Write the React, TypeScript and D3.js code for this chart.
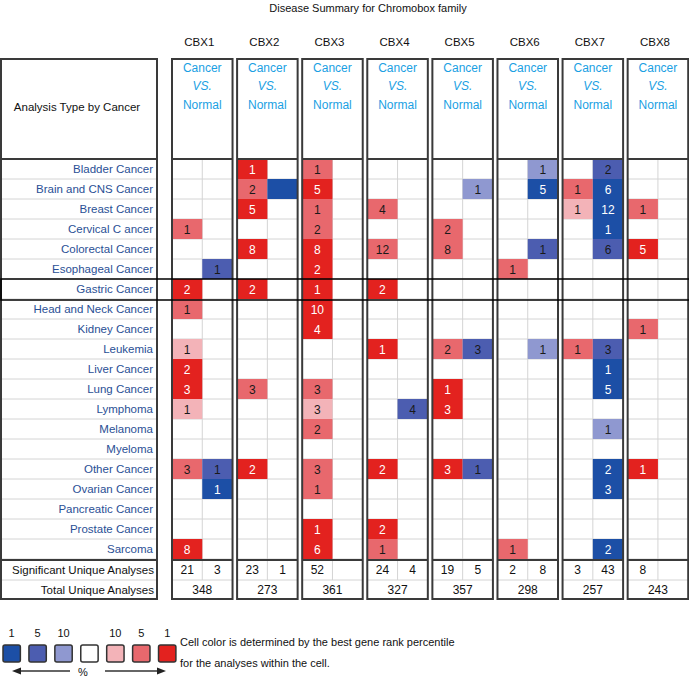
import React from "react";
import * as d3 from "d3";

const title = "Disease Summary for Chromobox family";
const genes = ["CBX1", "CBX2", "CBX3", "CBX4", "CBX5", "CBX6", "CBX7", "CBX8"];
const cancers = [
  "Bladder Cancer", "Brain and CNS Cancer", "Breast Cancer", "Cervical C ancer",
  "Colorectal Cancer", "Esophageal Cancer", "Gastric Cancer", "Head and Neck Cancer",
  "Kidney Cancer", "Leukemia", "Liver Cancer", "Lung Cancer", "Lymphoma", "Melanoma",
  "Myeloma", "Other Cancer", "Ovarian Cancer", "Pancreatic Cancer", "Prostate Cancer", "Sarcoma",
];
const directions = ["up", "down"];
const highlightCancer = "Gastric Cancer";

// [cancer, gene, direction, count, best percentile]
const cellValues: [string, string, string, number | null, number][] = [
  ["Bladder Cancer", "CBX2", "up", 1, 1],
  ["Bladder Cancer", "CBX3", "up", 1, 5],
  ["Bladder Cancer", "CBX6", "down", 1, 10],
  ["Bladder Cancer", "CBX7", "down", 2, 5],
  ["Brain and CNS Cancer", "CBX2", "up", 2, 5],
  ["Brain and CNS Cancer", "CBX2", "down", null, 1],
  ["Brain and CNS Cancer", "CBX3", "up", 5, 1],
  ["Brain and CNS Cancer", "CBX5", "down", 1, 10],
  ["Brain and CNS Cancer", "CBX6", "down", 5, 1],
  ["Brain and CNS Cancer", "CBX7", "up", 1, 5],
  ["Brain and CNS Cancer", "CBX7", "down", 6, 1],
  ["Breast Cancer", "CBX2", "up", 5, 1],
  ["Breast Cancer", "CBX3", "up", 1, 5],
  ["Breast Cancer", "CBX4", "up", 4, 5],
  ["Breast Cancer", "CBX7", "up", 1, 10],
  ["Breast Cancer", "CBX7", "down", 12, 1],
  ["Breast Cancer", "CBX8", "up", 1, 5],
  ["Cervical C ancer", "CBX1", "up", 1, 5],
  ["Cervical C ancer", "CBX3", "up", 2, 5],
  ["Cervical C ancer", "CBX5", "up", 2, 5],
  ["Cervical C ancer", "CBX7", "down", 1, 1],
  ["Colorectal Cancer", "CBX2", "up", 8, 1],
  ["Colorectal Cancer", "CBX3", "up", 8, 1],
  ["Colorectal Cancer", "CBX4", "up", 12, 5],
  ["Colorectal Cancer", "CBX5", "up", 8, 5],
  ["Colorectal Cancer", "CBX6", "down", 1, 5],
  ["Colorectal Cancer", "CBX7", "down", 6, 5],
  ["Colorectal Cancer", "CBX8", "up", 5, 1],
  ["Esophageal Cancer", "CBX1", "down", 1, 5],
  ["Esophageal Cancer", "CBX3", "up", 2, 1],
  ["Esophageal Cancer", "CBX6", "up", 1, 5],
  ["Gastric Cancer", "CBX1", "up", 2, 1],
  ["Gastric Cancer", "CBX2", "up", 2, 1],
  ["Gastric Cancer", "CBX3", "up", 1, 1],
  ["Gastric Cancer", "CBX4", "up", 2, 1],
  ["Head and Neck Cancer", "CBX1", "up", 1, 5],
  ["Head and Neck Cancer", "CBX3", "up", 10, 1],
  ["Kidney Cancer", "CBX3", "up", 4, 1],
  ["Kidney Cancer", "CBX8", "up", 1, 5],
  ["Leukemia", "CBX1", "up", 1, 10],
  ["Leukemia", "CBX4", "up", 1, 1],
  ["Leukemia", "CBX5", "up", 2, 5],
  ["Leukemia", "CBX5", "down", 3, 5],
  ["Leukemia", "CBX6", "down", 1, 10],
  ["Leukemia", "CBX7", "up", 1, 5],
  ["Leukemia", "CBX7", "down", 3, 5],
  ["Liver Cancer", "CBX1", "up", 2, 1],
  ["Liver Cancer", "CBX7", "down", 1, 1],
  ["Lung Cancer", "CBX1", "up", 3, 1],
  ["Lung Cancer", "CBX2", "up", 3, 5],
  ["Lung Cancer", "CBX3", "up", 3, 5],
  ["Lung Cancer", "CBX5", "up", 1, 1],
  ["Lung Cancer", "CBX7", "down", 5, 1],
  ["Lymphoma", "CBX1", "up", 1, 10],
  ["Lymphoma", "CBX3", "up", 3, 10],
  ["Lymphoma", "CBX4", "down", 4, 5],
  ["Lymphoma", "CBX5", "up", 3, 1],
  ["Melanoma", "CBX3", "up", 2, 5],
  ["Melanoma", "CBX7", "down", 1, 10],
  ["Other Cancer", "CBX1", "up", 3, 5],
  ["Other Cancer", "CBX1", "down", 1, 5],
  ["Other Cancer", "CBX2", "up", 2, 1],
  ["Other Cancer", "CBX3", "up", 3, 5],
  ["Other Cancer", "CBX4", "up", 2, 1],
  ["Other Cancer", "CBX5", "up", 3, 1],
  ["Other Cancer", "CBX5", "down", 1, 5],
  ["Other Cancer", "CBX7", "down", 2, 1],
  ["Other Cancer", "CBX8", "up", 1, 1],
  ["Ovarian Cancer", "CBX1", "down", 1, 1],
  ["Ovarian Cancer", "CBX3", "up", 1, 5],
  ["Ovarian Cancer", "CBX7", "down", 3, 1],
  ["Prostate Cancer", "CBX3", "up", 1, 1],
  ["Prostate Cancer", "CBX4", "up", 2, 1],
  ["Sarcoma", "CBX1", "up", 8, 1],
  ["Sarcoma", "CBX3", "up", 6, 1],
  ["Sarcoma", "CBX4", "up", 1, 5],
  ["Sarcoma", "CBX6", "up", 1, 5],
  ["Sarcoma", "CBX7", "down", 2, 1],
];

const significantUp = [21, 23, 52, 24, 19, 2, 3, 8];
const significantDown: (number | null)[] = [3, 1, null, 4, 5, 8, 43, null];
const totalAnalyses = [348, 273, 361, 327, 357, 298, 257, 243];

const legendKeys = ["down-1", "down-5", "down-10", "none", "up-10", "up-5", "up-1"];
const legendLabels = ["1", "5", "10", "", "10", "5", "1"];

const colorScale = d3
  .scaleOrdinal<string, string>()
  .domain(["down-1", "down-5", "down-10", "none", "up-10", "up-5", "up-1"])
  .range(["#1c4fa6", "#4c5db0", "#8f98d0", "#ffffff", "#f3b3b8", "#e8686d", "#e3221f"]);

const FONT = "'Liberation Sans', Arial, Helvetica, sans-serif";

export default function App() {
  const W = 689;
  const H = 678;
  const top = 59;
  const headBottom = 159;
  const bodyBottom = 559;
  const sigBottom = 580;
  const bottom = 599;

  const x = d3.scaleBand<string>().domain(genes).range([172, 688.2]).paddingInner(0.07);
  const y = d3.scaleBand<string>().domain(cancers).range([headBottom, bodyBottom]);
  const bw = x.bandwidth();
  const sub = d3.scaleBand<string>().domain(directions).range([0, bw]);
  const rh = y.bandwidth();

  const border = "#3a3a3a";
  const grid = "#d4d4d4";
  const labelBlue = "#2a4f95";

  const legendX = d3.scaleBand<string>().domain(legendKeys).range([3, 3 + 24.7 * 7]).paddingInner(0.33);

  return (
    <svg
      width={W}
      height={H}
      style={{ position: "absolute", left: 0, top: 0, background: "#fff" }}
      fontFamily={FONT}
    >
      <rect x={0} y={0} width={W} height={H} fill="#fff" />
      <text x={368} y={12} textAnchor="middle" fontSize={11} fill="#111">
        {title}
      </text>

      {/* left label panel */}
      <g>
        {cancers.map((c) => (
          <line key={"lg" + c} x1={1} x2={157} y1={(y(c) as number) + rh} y2={(y(c) as number) + rh} stroke={grid} />
        ))}
        <line x1={1} x2={157} y1={sigBottom} y2={sigBottom} stroke={grid} />
        <rect x={1} y={top} width={156} height={bottom - top} fill="none" stroke={border} strokeWidth={2} />
        <line x1={1} x2={157} y1={headBottom} y2={headBottom} stroke={border} strokeWidth={2} />
        <line x1={1} x2={157} y1={bodyBottom + 1} y2={bodyBottom + 1} stroke={border} strokeWidth={2} />
        <text x={77} y={111} textAnchor="middle" fontSize={11.5} fill="#111">
          Analysis Type by Cancer
        </text>
        {cancers.map((c) => (
          <text key={"lt" + c} x={153} y={(y(c) as number) + rh / 2 + 4} textAnchor="end" fontSize={11.5} fill={labelBlue}>
            {c}
          </text>
        ))}
        <text x={154} y={sigBottom - 6} textAnchor="end" fontSize={11.5} fill="#111">
          Significant Unique Analyses
        </text>
        <text x={154} y={bottom - 5} textAnchor="end" fontSize={11.5} fill="#111">
          Total Unique Analyses
        </text>
      </g>

      {/* gene panels */}
      {genes.map((g, gi) => {
        const x0 = x(g) as number;
        return (
          <g key={g}>
            <text x={x0 + bw / 2 - 3} y={46} textAnchor="middle" fontSize={11.5} fill="#111">
              {g}
            </text>
            <text x={x0 + bw / 2} y={72} textAnchor="middle" fontSize={12} fill="#1a9fe3">
              Cancer
            </text>
            <text x={x0 + bw / 2} y={90} textAnchor="middle" fontSize={12} fontStyle="italic" fill="#1a9fe3">
              VS.
            </text>
            <text x={x0 + bw / 2} y={109} textAnchor="middle" fontSize={12} fill="#1a9fe3">
              Normal
            </text>
            {cancers.map((c) => (
              <line key={"g" + c} x1={x0} x2={x0 + bw} y1={(y(c) as number) + rh} y2={(y(c) as number) + rh} stroke={grid} />
            ))}
            <line x1={x0} x2={x0 + bw} y1={sigBottom} y2={sigBottom} stroke={grid} />
            <line
              x1={x0 + (sub("down") as number)}
              x2={x0 + (sub("down") as number)}
              y1={headBottom}
              y2={sigBottom}
              stroke={grid}
            />
            {cellValues
              .filter((d) => d[1] === g)
              .map((d, i) => {
                const [c, , dir, count, pct] = d;
                const cx = x0 + (sub(dir) as number);
                const cy = y(c) as number;
                const key = dir + "-" + pct;
                return (
                  <g key={i}>
                    <rect x={cx} y={cy} width={sub.bandwidth()} height={rh} fill={colorScale(key)} />
                    {count !== null && (
                      <text
                        x={cx + sub.bandwidth() / 2}
                        y={cy + rh / 2 + 4.5}
                        textAnchor="middle"
                        fontSize={12}
                        fill={pct === 1 ? "#fff" : "#1a1a1a"}
                      >
                        {count}
                      </text>
                    )}
                  </g>
                );
              })}
            <text x={x0 + (sub("up") as number) + sub.bandwidth() / 2} y={sigBottom - 6} textAnchor="middle" fontSize={12} fill="#111">
              {significantUp[gi]}
            </text>
            {significantDown[gi] !== null && (
              <text
                x={x0 + (sub("down") as number) + sub.bandwidth() / 2}
                y={sigBottom - 6}
                textAnchor="middle"
                fontSize={12}
                fill="#111"
              >
                {significantDown[gi]}
              </text>
            )}
            <text x={x0 + bw / 2} y={bottom - 5} textAnchor="middle" fontSize={12} fill="#111">
              {totalAnalyses[gi]}
            </text>
            <rect x={x0} y={top} width={bw} height={bottom - top} fill="none" stroke={border} strokeWidth={2} />
            <line x1={x0} x2={x0 + bw} y1={headBottom} y2={headBottom} stroke={border} strokeWidth={2} />
            <line x1={x0} x2={x0 + bw} y1={bodyBottom + 1} y2={bodyBottom + 1} stroke={border} strokeWidth={2} />
          </g>
        );
      })}

      {/* highlighted row */}
      <rect
        x={1}
        y={y(highlightCancer) as number}
        width={W}
        height={rh + 1}
        fill="none"
        stroke="#000"
        strokeWidth={1.5}
      />

      {/* legend */}
      <g>
        {legendKeys.map((k, i) => {
          const lx = legendX(k) as number;
          return (
            <g key={k}>
              <rect x={lx} y={645} width={legendX.bandwidth()} height={17} rx={2} fill={colorScale(k)} stroke="#333" strokeWidth={1.5} />
              <text x={lx + legendX.bandwidth() / 2} y={637} textAnchor="middle" fontSize={11} fill="#111">
                {legendLabels[i]}
              </text>
            </g>
          );
        })}
        <line x1={19} x2={70} y1={671} y2={671} stroke="#333" strokeWidth={1.5} />
        <path d="M12,671 L21,667.5 L21,674.5 Z" fill="#222" />
        <line x1={105} x2={158} y1={671} y2={671} stroke="#333" strokeWidth={1.5} />
        <path d="M166,671 L157,667.5 L157,674.5 Z" fill="#222" />
        <text x={83} y={676} textAnchor="middle" fontSize={11} fill="#111">
          %
        </text>
        <text x={180} y={646} fontSize={11} fill="#111">
          Cell color is determined by the best gene rank percentile
        </text>
        <text x={180} y={667} fontSize={11} fill="#111">
          for the analyses within the cell.
        </text>
      </g>
    </svg>
  );
}
